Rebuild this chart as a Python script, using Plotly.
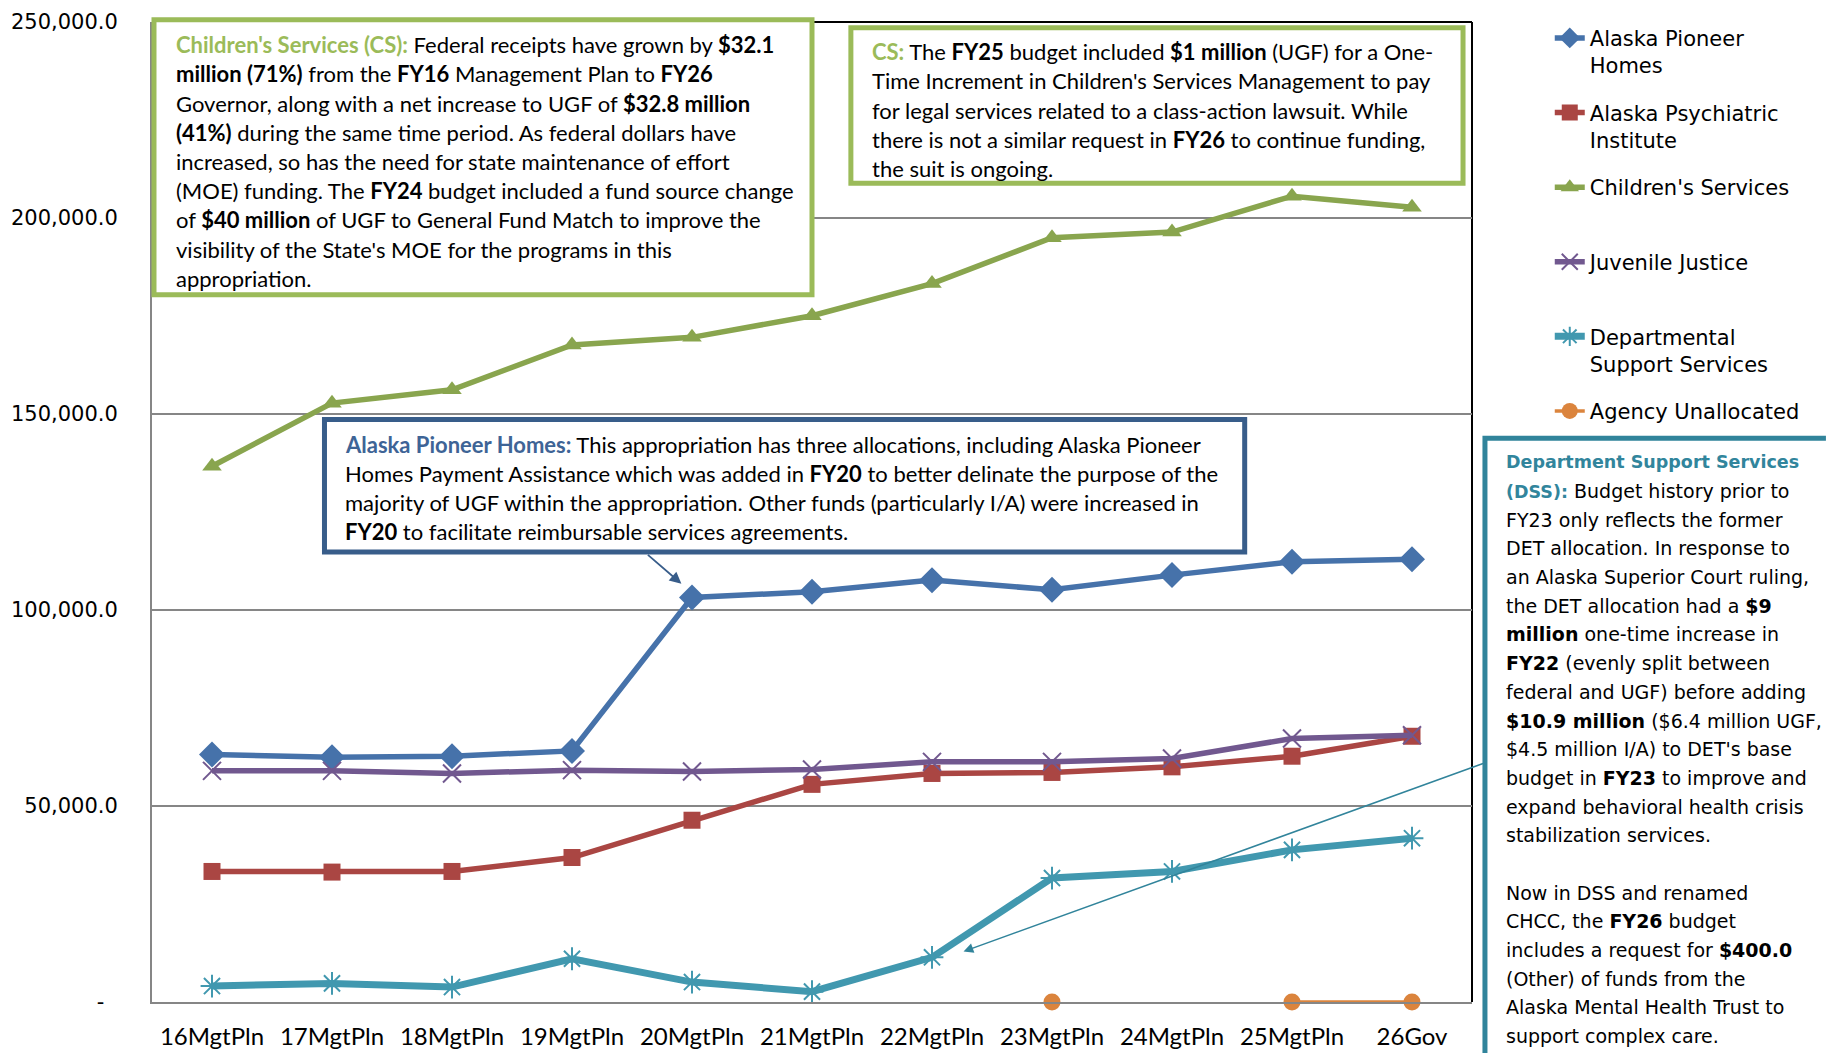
import plotly.graph_objects as go

# ---------------- data ----------------
categories = ["16MgtPln", "17MgtPln", "18MgtPln", "19MgtPln", "20MgtPln", "21MgtPln",
              "22MgtPln", "23MgtPln", "24MgtPln", "25MgtPln", "26Gov"]

pioneer_homes = [63140, 62450, 62710, 64060, 103200, 104650, 107620, 105160, 108900, 112280, 112960]
psychiatric = [33300, 33140, 33300, 36860, 46370, 55520, 58300, 58560, 59990, 62700, 67790]
childrens = [136680, 152770, 156170, 167610, 169550, 175060, 183270, 194970, 196420, 205570, 202770]
juvenile = [58970, 58970, 58300, 59150, 58810, 59320, 61260, 61260, 62110, 67200, 68040]
dss = [4070, 4750, 3810, 11030, 5080, 2640, 11400, 31620, 33300, 38810, 41780]
unallocated = [None, None, None, None, None, None, None, 0, None, 0, 0]

series_names = ["Alaska Pioneer<br>Homes", "Alaska Psychiatric<br>Institute",
                "Children's Services<br>\u00a0", "Juvenile Justice<br>\u00a0",
                "Departmental<br>Support Services", "Agency Unallocated"]

y_tickvals = [0, 50000, 100000, 150000, 200000, 250000]
y_ticktext = ["-\u00a0\u00a0", "50,000.0", "100,000.0", "150,000.0", "200,000.0", "250,000.0"]

cs_lines = [
    "<span style='color:#9BBB59'><b>Children's Services (CS):</b></span> Federal receipts have grown by <b>$32.1</b>",
    "<b>million (71%)</b> from the <b>FY16</b> Management Plan to <b>FY26</b>",
    "Governor, along with a net increase to UGF of <b>$32.8 million</b>",
    "<b>(41%)</b> during the same time period. As federal dollars have",
    "increased, so has the need for state maintenance of effort",
    "(MOE) funding. The <b>FY24</b> budget included a fund source change",
    "of <b>$40 million</b> of UGF to General Fund Match to improve the",
    "visibility of the State's MOE for the programs in this",
    "appropriation.",
]
cs2_lines = [
    "<span style='color:#9BBB59'><b>CS:</b></span> The <b>FY25</b> budget included <b>$1 million</b> (UGF) for a One-",
    "Time Increment in Children's Services Management to pay",
    "for legal services related to a class-action lawsuit. While",
    "there is not a similar request in <b>FY26</b> to continue funding,",
    "the suit is ongoing.",
]
aph_lines = [
    "<span style='color:#3E6496'><b>Alaska Pioneer Homes:</b></span> This appropriation has three allocations, including Alaska Pioneer",
    "Homes Payment Assistance which was added in <b>FY20</b> to better delinate the purpose of the",
    "majority of UGF within the appropriation. Other funds (particularly I/A) were increased in",
    "<b>FY20</b> to facilitate reimbursable services agreements.",
]
dss_lines = [
    "<span style='color:#31859C;font-size:17.5px'><b>Department Support Services</b></span>",
    "<span style='color:#31859C;font-size:17.5px'><b>(DSS):</b></span> Budget history prior to",
    "FY23 only reflects the former",
    "DET allocation. In response to",
    "an Alaska Superior Court ruling,",
    "the DET allocation had a <b>$9</b>",
    "<b>million</b> one-time increase in",
    "<b>FY22</b> (evenly split between",
    "federal and UGF) before adding",
    "<b>$10.9 million</b> ($6.4 million UGF,",
    "$4.5 million I/A) to DET's base",
    "budget in <b>FY23</b> to improve and",
    "expand behavioral health crisis",
    "stabilization services.",
    "",
    "Now in DSS and renamed",
    "CHCC, the <b>FY26</b> budget",
    "includes a request for <b>$400.0</b>",
    "(Other) of funds from the",
    "Alaska Mental Health Trust to",
    "support complex care.",
]

# ---------------- layout geometry (reference pixels) ----------------
W, H = 1827, 1069
A, C = 0.992, 8.5          # measured mapping of page pixels to picture pixels


def page_y(y_ref):
    return (y_ref - C) / A


PL, PR, PT, PB = 148, 1472, 19.2, 1002.7   # plot area in reference pixels


def px(x):
    return (x - PL) / (PR - PL)


def py(y):
    return (PB - y) / (PB - PT)


fig = go.Figure()

styles = [
    dict(color="#4672AA", symbol="diamond", size=20, lw=5.5),
    dict(color="#AA4643", symbol="square", size=17, lw=5.5),
    dict(color="#89A54E", symbol="triangle-up", size=17, lw=5.5),
    dict(color="#71588F", symbol="x-thin-open", size=18, lw=5.5),
    dict(color="#4198AF", symbol="asterisk-open", size=19, lw=7),
    dict(color="#DB843D", symbol="circle", size=17, lw=3.5),
]
all_series = [pioneer_homes, psychiatric, childrens, juvenile, dss, unallocated]

for i, (vals, st, name) in enumerate(zip(all_series, styles, series_names)):
    open_sym = st["symbol"].endswith("open")
    fig.add_trace(go.Scatter(
        x=categories, y=vals, name=name, mode="lines+markers",
        legendgroup=f"g{i}", cliponaxis=False,
        line=dict(color=st["color"], width=st["lw"]),
        marker=dict(symbol=st["symbol"], size=st["size"], color=st["color"],
                    line=dict(color=st["color"], width=2 if open_sym else 0)),
        connectgaps=False,
    ))

shapes = []
annotations = []


def add_box(x0, y0, x1, y1, color):
    shapes.append(dict(type="rect", xref="paper", yref="paper",
                       x0=px(x0), x1=px(x1), y0=py(y1), y1=py(y0),
                       line=dict(color=color, width=5), fillcolor="white", layer="above"))


def add_lines(lines, x0, y0, step, font):
    for k, t in enumerate(lines):
        if not t:
            continue
        annotations.append(dict(xref="paper", yref="paper", x=px(x0), y=py(y0 + k * step),
                                xanchor="left", yanchor="middle", showarrow=False,
                                text=t, align="left", font=font))


calib = dict(family="Lato, Carlito, sans-serif", size=22, color="#000000")
verd = dict(family="DejaVu Sans, Verdana, sans-serif", size=19, color="#000000")

# Children's services box 1
add_box(150, 17, 810, 293, "#9BBB59")
add_lines(cs_lines, 170, 42, 29.3, calib)
# Children's services box 2
add_box(849, 25, 1463, 181, "#9BBB59")
add_lines(cs2_lines, 868, 49, 29.3, calib)
# Alaska Pioneer Homes box
add_box(321, 418, 1244, 551, "#385D8A")
add_lines(aph_lines, 340, 443, 29.3, calib)
# DSS box: white area + left/top border running off the page
shapes.append(dict(type="rect", xref="paper", yref="paper",
                   x0=px(1485), x1=px(W), y0=py(1075), y1=py(437),
                   line=dict(width=0), fillcolor="white", layer="above"))
shapes.append(dict(type="path", xref="paper", yref="paper",
                   path=f"M {px(1485)},{py(1075)} L {px(1485)},{py(437)} L {px(W)},{py(437)}",
                   line=dict(color="#31849B", width=5), layer="above"))
add_lines(dss_lines, 1504, 461, 28.8, verd)

# arrows
annotations.append(dict(xref="paper", yref="paper", x=px(679), y=py(583), text="",
                        showarrow=True, axref="pixel", ayref="pixel", ax=-35, ay=-30 / A,
                        arrowhead=2, arrowsize=1.3, arrowwidth=1.8, arrowcolor="#385D8A"))
annotations.append(dict(xref="paper", yref="paper", x=px(962), y=py(952), text="",
                        showarrow=True, axref="pixel", ayref="pixel", ax=521, ay=-187 / A,
                        arrowhead=2, arrowsize=1.3, arrowwidth=1.5, arrowcolor="#31849B"))

# plot frame top/right in black
shapes.append(dict(type="line", xref="paper", yref="paper", x0=0, x1=1, y0=1, y1=1,
                   line=dict(color="#000000", width=2), layer="below"))
shapes.append(dict(type="line", xref="paper", yref="paper", x0=1, x1=1, y0=0, y1=1,
                   line=dict(color="#000000", width=2), layer="below"))

fig.update_layout(
    width=W, height=H,
    margin=dict(l=PL, r=W - PR, t=page_y(PT), b=H - page_y(PB)),
    paper_bgcolor="white", plot_bgcolor="white",
    showlegend=True,
    legend=dict(x=px(1550), y=py(15), xanchor="left", yanchor="top",
                font=dict(family="DejaVu Sans, Verdana, sans-serif", size=21, color="#000000"),
                valign="top", tracegroupgap=17, bgcolor="rgba(0,0,0,0)",
                traceorder="grouped"),
    xaxis=dict(type="category", range=[-0.5, 10.5], showgrid=False, zeroline=False,
               showline=True, linecolor="#868686", linewidth=2, ticks="",
               tickfont=dict(family="Lato, Carlito, sans-serif", size=24, color="#000000"),
               ticklabelstandoff=12),
    yaxis=dict(range=[0, 250000], tickvals=y_tickvals, ticktext=y_ticktext,
               showgrid=True, gridcolor="#868686", gridwidth=1.5, zeroline=False,
               showline=True, linecolor="#868686", linewidth=2, ticks="",
               tickfont=dict(family="DejaVu Sans, Verdana, sans-serif", size=21, color="#000000"),
               ticklabelstandoff=28),
    shapes=shapes,
    annotations=annotations,
)

fig.write_html("out.html")
